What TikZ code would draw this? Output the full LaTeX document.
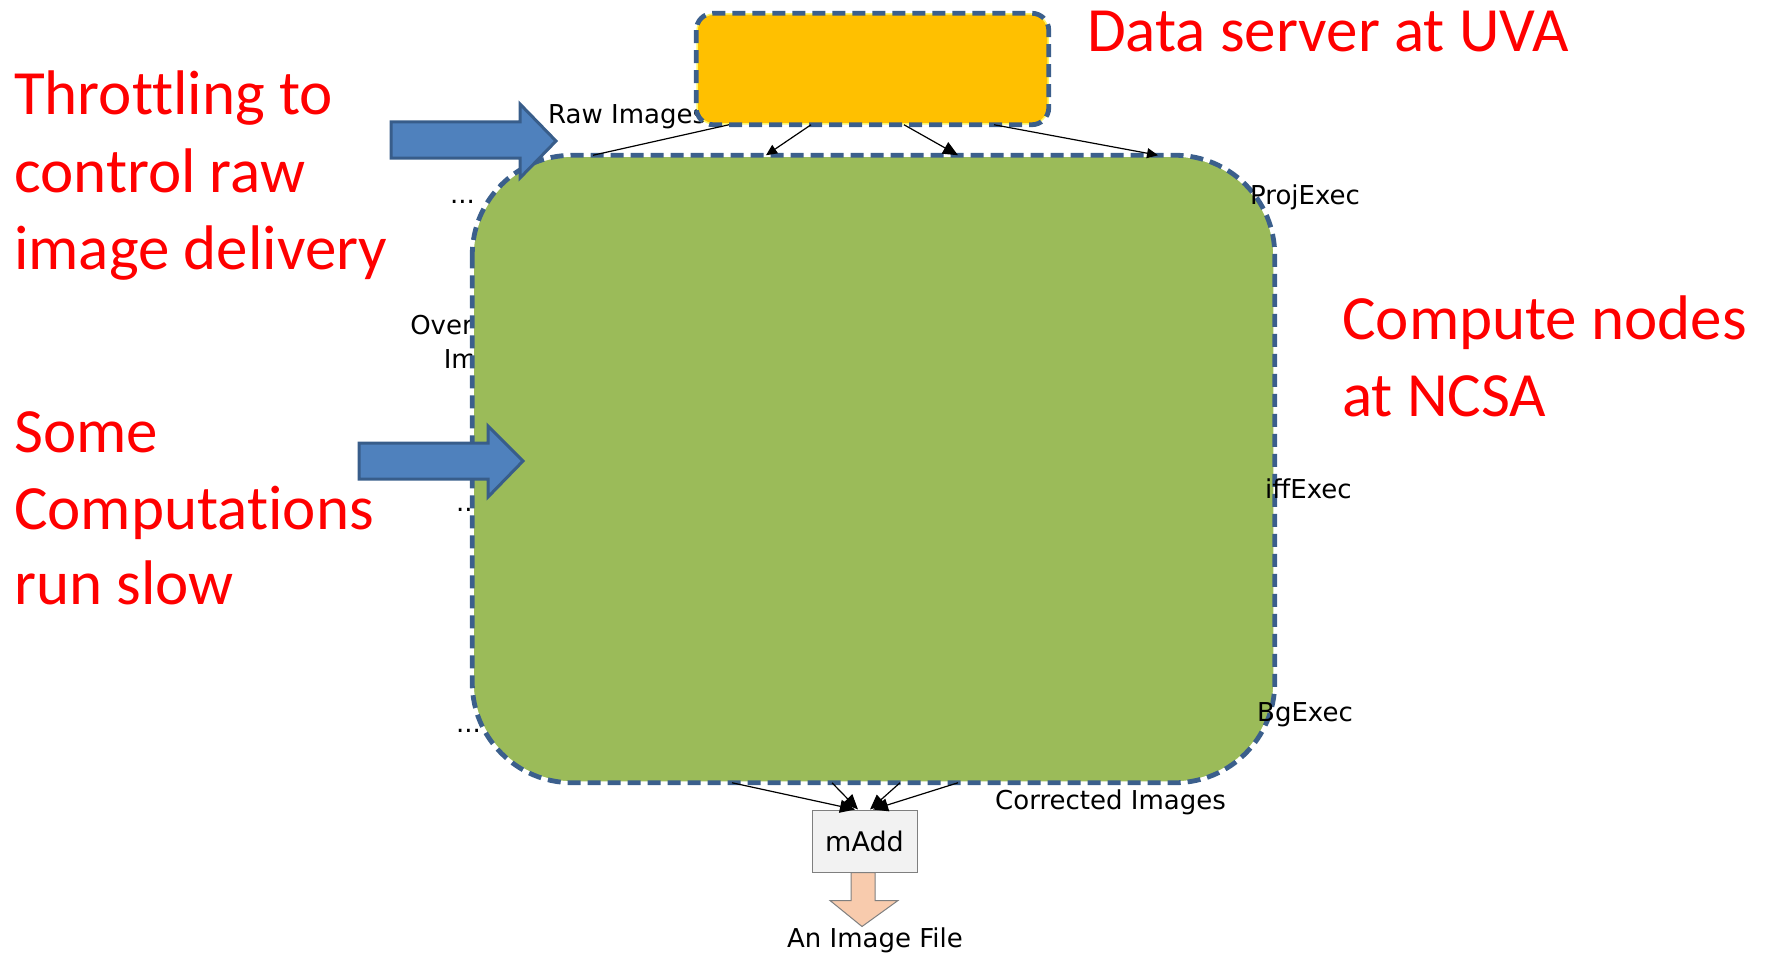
\documentclass[tikz,border=0pt]{standalone}
\usepackage{fontspec}
\setmainfont[Ligatures=NoCommon]{Carlito}
\newfontfamily\labelfont{DejaVu Sans}
\usetikzlibrary{arrows.meta,calc}

\definecolor{edgeblue}{HTML}{3B5F8C}
\definecolor{serverfill}{HTML}{FFC000}
\definecolor{computefill}{HTML}{9BBB59}
\definecolor{arrowblue}{HTML}{4F81BD}
\definecolor{arrowedge}{HTML}{385D8A}
\definecolor{peach}{HTML}{F8CBAD}
\definecolor{boxgray}{HTML}{F2F2F2}
\definecolor{rimgray}{HTML}{7F7F7F}

\tikzset{
  redtext/.style={text=red, font=\fontsize{63}{74}\selectfont, inner sep=0pt, anchor=base west},
  lbl/.style={text=black, font=\labelfont\fontsize{26}{30}\selectfont, inner sep=0pt, anchor=base west},
  dashrim/.style={draw=edgeblue, line width=4.8pt, dash pattern=on 13pt off 7pt},
  serverbox/.style={fill=serverfill, draw=yellow!60!white, line width=1.5pt, rounded corners=17pt, minimum width=351pt, minimum height=110pt, inner sep=0pt},
  computebox/.style={fill=computefill, draw=white, line width=1.5pt, rounded corners=100pt, minimum width=801pt, minimum height=626pt, inner sep=0pt},
  addbox/.style={fill=boxgray, draw=rimgray, line width=1pt, minimum width=105pt, minimum height=62pt, inner sep=0pt, font=\labelfont\fontsize{27}{30}\selectfont},
  conn/.style={draw=black, line width=1.2pt},
  tip/.style={-{Triangle[width=10pt,length=11pt]}},
  bigtip/.style={-{Triangle[width=13pt,length=15pt]}},
  blockarrow/.style={fill=arrowblue, draw=arrowedge, line width=3pt, line join=miter},
  filearrow/.style={fill=peach, draw=rimgray, line width=1pt, line join=miter}
}

\begin{document}
\begin{tikzpicture}[x=1pt,y=-1pt]
\useasboundingbox (0,0) rectangle (1771,955);

% side captions
\node[redtext] (t1) at (14,115) {Throttling to};
\node[redtext] (t2) at (14,192) {control raw};
\node[redtext] (t3) at (14,269) {image delivery};
\node[redtext] (s1) at (14,452) {Some};
\node[redtext] (s2) at (14,529) {Computations};
\node[redtext] (s3) at (14,604) {run slow};
\node[redtext] (c1) at (1342,339) {Compute nodes};
\node[redtext] (c2) at (1342,416) {at NCSA};
\node[redtext] (d1) at (1087,52) {Data server at UVA};

% workflow labels partly hidden by the boxes
\node[lbl] (raw) at (548,124) {Raw Images};
\node[lbl, anchor=base east] (over) at (473,334) {Over};
\node[lbl, anchor=base east] (im) at (477,368) {Im};
\node[lbl] (dots1) at (450,203) {...};
\node[lbl] (dots2) at (456,511) {...};
\node[lbl] (dots3) at (456,732) {...};

% data server
\node[serverbox] (server) at (872.5,69) {};
\draw[dashrim, rounded corners=17pt] (server.north west) rectangle (server.south east);

% compute nodes
\node[computebox] (compute) at (873.5,469) {};
\draw[dashrim, rounded corners=100pt] (compute.north west) rectangle (compute.south east);

\node[lbl] (proj) at (1250,204) {ProjExec};
\node[lbl] (diff) at (1265,498) {iffExec};
\node[lbl] (bg) at (1257,721) {BgExec};
\node[lbl] (corr) at (995,809) {Corrected Images};

% raw image transfers
\draw[conn] ([xshift=-143.5pt]server.south) -- ([xshift=-280.5pt]compute.north);
\draw[conn, tip] ([xshift=-61.5pt]server.south) -- ([xshift=-107.5pt]compute.north);
\draw[conn, bigtip] ([xshift=31.5pt]server.south) -- ([xshift=84.5pt]compute.north);
\draw[conn, tip] ([xshift=121.5pt]server.south) -- ([xshift=284.5pt]compute.north);

% final co-addition
\node[addbox] (madd) at (864.5,841) {mAdd};
\draw[conn, bigtip] ([xshift=-141.5pt]compute.south) -- ([xshift=-9.5pt]madd.north);
\draw[conn, bigtip] ([xshift=-41.5pt]compute.south) -- ([xshift=-6.5pt]madd.north);
\draw[conn, bigtip] ([xshift=26.5pt]compute.south) -- ([xshift=5.5pt]madd.north);
\draw[conn, bigtip] ([xshift=84.5pt]compute.south) -- ([xshift=8.5pt]madd.north);

% output file
\draw[filearrow] ([xshift=-13.5pt]madd.south) -- ++(0,28) -- ++(-21,0) -- ++(32,26) -- ++(36,-26) -- ++(-23,0) -- ++(0,-28) -- cycle;
\node[lbl, anchor=base] (file) at (875,947) {An Image File};

% highlight arrows
\draw[blockarrow] (391,122) -- (520,122) -- (520,104) -- (556,141) -- (520,178) -- (520,158) -- (391,158) -- cycle;
\draw[blockarrow] (359,443) -- (488,443) -- (488,426) -- (523,461) -- (488,497) -- (488,479) -- (359,479) -- cycle;
\end{tikzpicture}
\end{document}
